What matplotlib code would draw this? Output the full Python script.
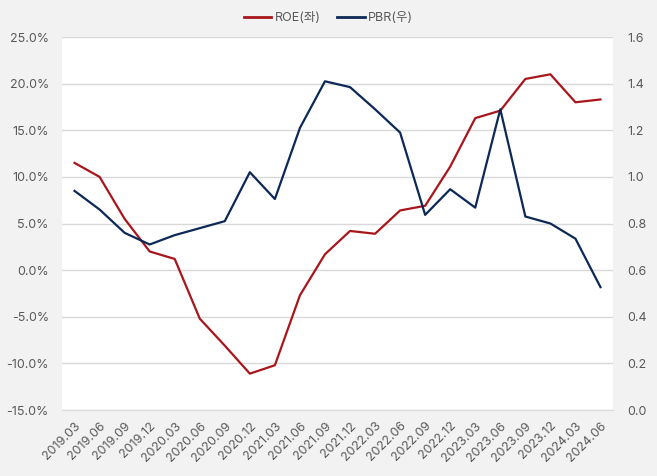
import matplotlib.pyplot as plt
from matplotlib.ticker import FuncFormatter
from matplotlib.lines import Line2D

plt.rcParams['font.family'] = ['Inter', 'Noto Sans CJK KR', 'DejaVu Sans']

### DATOS
quarters = ["2019.03", "2019.06", "2019.09", "2019.12", "2020.03", "2020.06",
            "2020.09", "2020.12", "2021.03", "2021.06", "2021.09", "2021.12",
            "2022.03", "2022.06", "2022.09", "2022.12", "2023.03", "2023.06",
            "2023.09", "2023.12", "2024.03", "2024.06"]
roe = [11.5, 10.0, 5.5, 2.0, 1.2, -5.2, -8.1, -11.1, -10.2, -2.7, 1.7, 4.2,
       3.9, 6.4, 6.9, 11.1, 16.3, 17.1, 20.5, 21.0, 18.0, 18.3]
pbr = [0.94, 0.86, 0.76, 0.71, 0.75, 0.78, 0.81, 1.02, 0.905, 1.21, 1.41, 1.385,
       1.29, 1.19, 0.837, 0.947, 0.868, 1.29, 0.83, 0.80, 0.735, 0.527]

RED = "#a8161c"
NAVY = "#0c2857"
GREY_TXT = "#595959"

fig = plt.figure(figsize=(6.57, 4.76), dpi=100, facecolor="#f2f2f2")
ax = fig.add_axes([62 / 657, 1 - 410 / 476, (613 - 62) / 657, (410 - 37) / 476])
ax.set_facecolor("white")
ax2 = ax.twinx()

x = list(range(len(quarters)))
ax.plot(x, roe, color=RED, lw=1.6, zorder=3)
ax2.plot(x, pbr, color=NAVY, lw=1.6, zorder=3)

ax.set_xlim(-0.5, len(quarters) - 0.5)
ax.set_ylim(-15, 25)
ax.set_yticks(range(-15, 26, 5))
ax.yaxis.set_major_formatter(FuncFormatter(lambda v, p: f"{v:.1f}%"))
ax2.set_ylim(0, 1.6)
ax2.set_yticks([i * 0.2 for i in range(9)])
ax2.yaxis.set_major_formatter(FuncFormatter(lambda v, p: f"{v:.1f}"))

ax.grid(axis="y", color="#d9d9d9", lw=1)
ax.set_axisbelow(True)

ax.set_xticks(x)
ax.set_xticklabels(quarters, rotation=45, ha="right", rotation_mode="anchor")

for a in (ax, ax2):
    for s in a.spines.values():
        s.set_visible(False)
    a.tick_params(length=0, colors=GREY_TXT, labelsize=9)
ax.spines["bottom"].set_visible(True)
ax.spines["bottom"].set_color("#d9d9d9")
ax.tick_params(axis="x", pad=7)
ax.tick_params(axis="y", pad=9.5)
ax2.tick_params(axis="y", pad=10)

handles = [Line2D([], [], color=RED, lw=2), Line2D([], [], color=NAVY, lw=2)]
fig.legend(handles, ["ROE(좌)", "PBR(우)"], loc="center", bbox_to_anchor=(0.5, 1 - 18 / 476),
           ncol=2, frameon=False, fontsize=9, handlelength=2.2, handletextpad=0.3,
           columnspacing=1.3, labelcolor=GREY_TXT)

plt.savefig("out.png", dpi=100, facecolor=fig.get_facecolor())
plt.close()
